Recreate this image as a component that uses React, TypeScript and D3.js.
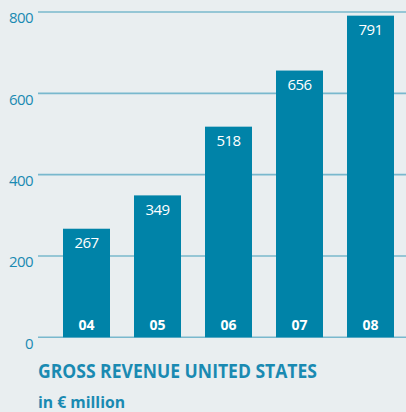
import React from "react";
import * as d3 from "d3";

const categories = ["04", "05", "06", "07", "08"];
const values = [267, 349, 518, 656, 791];
const yTicks = [0, 200, 400, 600, 800];
const title = "GROSS REVENUE UNITED STATES";
const subtitle = "in € million";

const W = 406;
const H = 412;
const font = "'Open Sans', 'Noto Sans', sans-serif";

export default function App() {
  const y = d3.scaleLinear().domain([0, 800]).range([337.3, 12]);
  const x = d3.scaleBand<string>().domain(categories).range([39, 418]).paddingInner(0.338).paddingOuter(0.338);
  const gridColor = "#79b8cd";
  const barColor = "#0083a8";
  const textColor = "#1a8ab2";
  return (
    <svg width={W} height={H} style={{ position: "absolute", left: 0, top: 0, display: "block" }}>
      <rect x={0} y={0} width={W} height={H} fill="#e9eef0" />
      {yTicks.map((t) => (
        <g key={t}>
          <line x1={38} x2={W} y1={y(t)} y2={y(t)} stroke={gridColor} strokeWidth={1.6} />
          <text x={33} y={y(t) + 11.3} textAnchor="end" fontFamily={font} fontSize={15} fill={textColor} letterSpacing={-0.6}>
            {t}
          </text>
        </g>
      ))}
      {categories.map((c, i) => {
        const bx = x(c)!;
        const bw = x.bandwidth();
        const top = y(values[i]);
        return (
          <g key={c}>
            <rect x={bx} y={top} width={bw} height={y(0) - top} fill={barColor} />
            <text x={bx + bw / 2} y={top + 19.5} textAnchor="middle" fontFamily={font} fontSize={15} fill="#ffffff" letterSpacing={-0.6}>
              {values[i]}
            </text>
            <text x={bx + bw / 2} y={330} textAnchor="middle" fontFamily={font} fontWeight="bold" fontSize={14} fill="#ffffff">
              {c}
            </text>
          </g>
        );
      })}
      <text x={38} y={377.5} fontFamily={font} fontWeight="bold" fontSize={19.5} fill={textColor} textLength={279} lengthAdjust="spacingAndGlyphs">
        {title}
      </text>
      <text x={38} y={408} fontFamily={font} fontWeight="bold" fontSize={16} fill={textColor} textLength={87} lengthAdjust="spacingAndGlyphs">
        {subtitle}
      </text>
    </svg>
  );
}
